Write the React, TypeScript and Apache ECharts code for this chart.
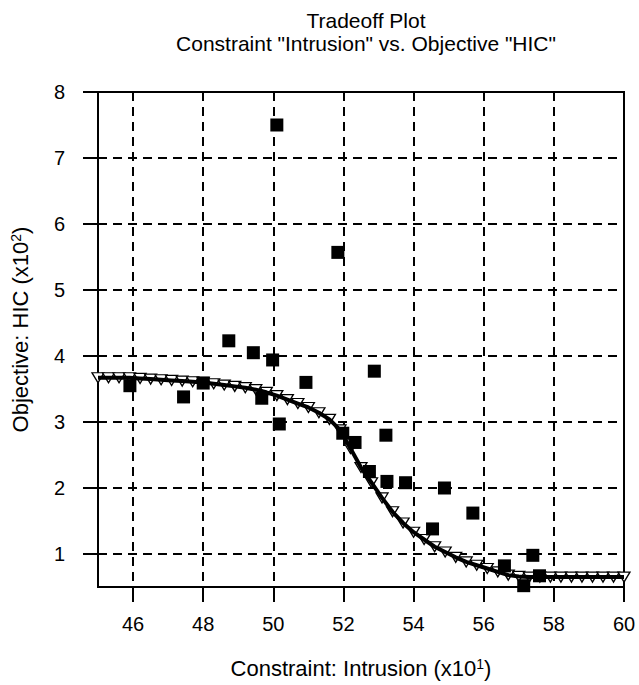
import React, { useEffect, useRef } from 'react';
import * as echarts from 'echarts';

const FONT = '"Liberation Sans", Arial, Helvetica, sans-serif';

const titleLines = ['Tradeoff Plot', 'Constraint "Intrusion" vs. Objective "HIC"'];
const xName = { main: 'Constraint: Intrusion (x10', sup: '1', tail: ')' };
const yName = { main: 'Objective: HIC (x10', sup: '2', tail: ')' };

const xMin = 45;
const xMax = 60;
const yMin = 0.5;
const yMax = 8;

// Black squares (evaluated designs)
const squareX = [45.91, 47.44, 48.0, 48.73, 49.43, 49.67, 49.98, 50.1, 50.17, 50.93, 51.84, 51.98, 52.33, 52.74, 52.88, 53.21, 53.24, 53.77, 54.54, 54.88, 55.69, 56.59, 57.14, 57.4, 57.59];
const squareY = [3.55, 3.38, 3.59, 4.23, 4.05, 3.36, 3.94, 7.5, 2.97, 3.6, 5.57, 2.83, 2.69, 2.25, 3.77, 2.8, 2.1, 2.08, 1.38, 2.0, 1.62, 0.82, 0.52, 0.98, 0.67];

// Tradeoff curve (triangles + thick line)
const curveX = [45.0, 45.3, 45.6, 45.9, 46.2, 46.5, 46.8, 47.1, 47.4, 47.7, 48.0, 48.3, 48.6, 48.9, 49.2, 49.5, 49.8, 50.1, 50.4, 50.7, 51.0, 51.3, 51.6, 51.9, 52.2, 52.5, 52.8, 53.1, 53.4, 53.7, 54.0, 54.3, 54.6, 54.9, 55.2, 55.5, 55.8, 56.1, 56.4, 56.7, 57.0, 57.3, 57.6, 57.9, 58.2, 58.5, 58.8, 59.1, 59.4, 59.7, 60.0];
const curveY = [3.67, 3.67, 3.67, 3.67, 3.66, 3.65, 3.64, 3.63, 3.62, 3.61, 3.6, 3.58, 3.56, 3.54, 3.52, 3.49, 3.45, 3.4, 3.34, 3.28, 3.22, 3.14, 3.04, 2.88, 2.6, 2.31, 2.08, 1.85, 1.64, 1.47, 1.33, 1.22, 1.11, 1.03, 0.95, 0.88, 0.83, 0.78, 0.73, 0.68, 0.66, 0.65, 0.65, 0.65, 0.65, 0.65, 0.65, 0.65, 0.65, 0.65, 0.65];

const squares = squareX.map((x, i) => [x, squareY[i]]);
const curve = curveX.map((x, i) => [x, curveY[i]]);

const nameRich = {
  a: { fontSize: 22, fontFamily: FONT, color: '#000' },
  s: { fontSize: 14, fontFamily: FONT, color: '#000', verticalAlign: 'top' },
};

export default function App() {
  const ref = useRef<HTMLDivElement>(null);
  useEffect(() => {
    if (!ref.current) return;
    const chart = echarts.init(ref.current, null, { renderer: 'svg' });
    const axisCommon = {
      axisLine: { show: true, onZero: false, lineStyle: { color: '#000', width: 2 } },
      axisTick: { show: true, inside: false, length: 15, lineStyle: { color: '#000', width: 2 } },
      splitLine: { show: true, lineStyle: { color: '#000', width: 2, type: [9, 6] } },
    };
    chart.setOption({
      animation: false,
      backgroundColor: '#fff',
      title: {
        text: titleLines.join('\n'),
        left: 361,
        top: 4,
        textAlign: 'center',
        textStyle: { fontSize: 21, fontWeight: 'normal', fontFamily: FONT, color: '#000', lineHeight: 23 },
      },
      grid: {
        left: 98,
        right: 15,
        top: 92,
        bottom: 98,
        show: true,
        borderColor: '#000',
        borderWidth: 2,
        backgroundColor: 'transparent',
      },
      xAxis: {
        type: 'value',
        min: xMin,
        max: xMax,
        minInterval: 2,
        maxInterval: 2,
        splitNumber: 7,
        ...axisCommon,
        axisLabel: {
          fontSize: 20,
          fontFamily: FONT,
          color: '#000',
          margin: 27,
          showMinLabel: false,
          formatter: (v: number) => (v === xMin ? '' : String(v)),
        },
        name: `{a|${xName.main}}{s|${xName.sup}}{a|${xName.tail}}`,
        nameLocation: 'middle',
        nameGap: 70,
        nameTextStyle: { rich: nameRich },
      },
      yAxis: {
        type: 'value',
        min: yMin,
        max: yMax,
        minInterval: 1,
        maxInterval: 1,
        splitNumber: 7,
        ...axisCommon,
        axisLabel: {
          fontSize: 20,
          fontFamily: FONT,
          color: '#000',
          margin: 33,
          showMinLabel: false,
          formatter: (v: number) => (v === yMin ? '' : String(v)),
        },
        name: `{a|${yName.main}}{s|${yName.sup}}{a|${yName.tail}}`,
        nameLocation: 'middle',
        nameRotate: 90,
        nameGap: 67,
        nameTextStyle: { rich: nameRich, padding: [0, 0, 0, 20] },
      },
      series: [
        {
          type: 'scatter',
          data: curve,
          symbol: 'triangle',
          symbolRotate: 180,
          symbolSize: [12, 10],
          itemStyle: { color: '#fff', borderColor: '#000', borderWidth: 1.3, opacity: 1 },
          z: 2,
        },
        {
          type: 'line',
          data: curve,
          showSymbol: false,
          symbol: 'none',
          smooth: false,
          lineStyle: { color: '#000', width: 4 },
          z: 3,
        },
        {
          type: 'scatter',
          data: squares,
          symbol: 'rect',
          symbolSize: 13,
          itemStyle: { color: '#000', opacity: 1 },
          z: 4,
        },
      ],
    });
    return () => chart.dispose();
  }, []);
  return <div ref={ref} style={{ position: 'fixed', left: 0, top: 0, width: 639, height: 685 }} />;
}
